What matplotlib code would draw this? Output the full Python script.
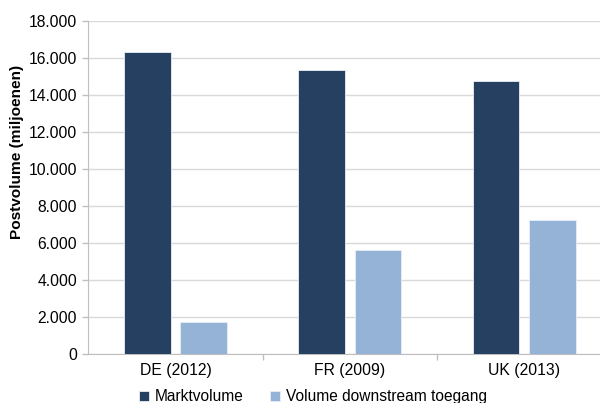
import numpy as np
import matplotlib.pyplot as plt
from matplotlib.ticker import FuncFormatter, FixedLocator

plt.rcParams["font.family"] = ["Liberation Sans", "DejaVu Sans"]

categories = ["DE (2012)", "FR (2009)", "UK (2013)"]
marktvolume = [16300, 15330, 14750]
downstream = [1700, 5600, 7200]
series_names = ["Marktvolume", "Volume downstream toegang"]

DARK = "#264061"
LIGHT = "#95b3d7"
GRID = "#d9d9d9"
AXIS = "#bfbfbf"

fig = plt.figure(figsize=(6.0, 4.03), dpi=100)
ax = fig.add_axes([0.147, 0.1228, 0.872, 0.826])

x = np.arange(len(categories))
width = 0.268
ax.bar(x - 0.161, marktvolume, width, color=DARK, edgecolor="#e8eef5",
       linewidth=0.6, label=series_names[0], zorder=3)
ax.bar(x + 0.161, downstream, width, color=LIGHT, edgecolor="#e8eef5",
       linewidth=0.6, label=series_names[1], zorder=3)

ax.set_xlim(-0.5, 2.5)
ax.set_ylim(0, 18000)
ax.set_yticks(np.arange(0, 18001, 2000))
ax.yaxis.set_major_formatter(FuncFormatter(lambda v, p: f"{int(v):,}".replace(",", ".")))
ax.yaxis.grid(True, color=GRID, linewidth=1.0, zorder=0)

ax.set_xticks(x)
ax.set_xticklabels(categories)
ax.tick_params(axis="x", which="major", length=0, pad=7, labelsize=11.3)
ax.xaxis.set_minor_locator(FixedLocator([0.5, 1.5]))
ax.tick_params(axis="x", which="minor", length=4, color=AXIS, width=1)
ax.tick_params(axis="y", length=4, color=AXIS, width=1, pad=4, labelsize=11.3)

for side in ["top", "right"]:
    ax.spines[side].set_visible(False)
ax.spines["left"].set_color(AXIS)
ax.spines["bottom"].set_color(AXIS)

ax.set_ylabel("Postvolume (miljoenen)", fontsize=11.1, fontweight="bold")
ax.yaxis.set_label_coords(-0.123, 0.607)

ax.legend(loc="center", bbox_to_anchor=(0.43, -0.13),
          ncol=2, frameon=False, fontsize=11.2, handlelength=0.6, handleheight=0.6,
          handletextpad=0.4, columnspacing=1.7, borderaxespad=0)

fig.savefig("out.png", dpi=100)
